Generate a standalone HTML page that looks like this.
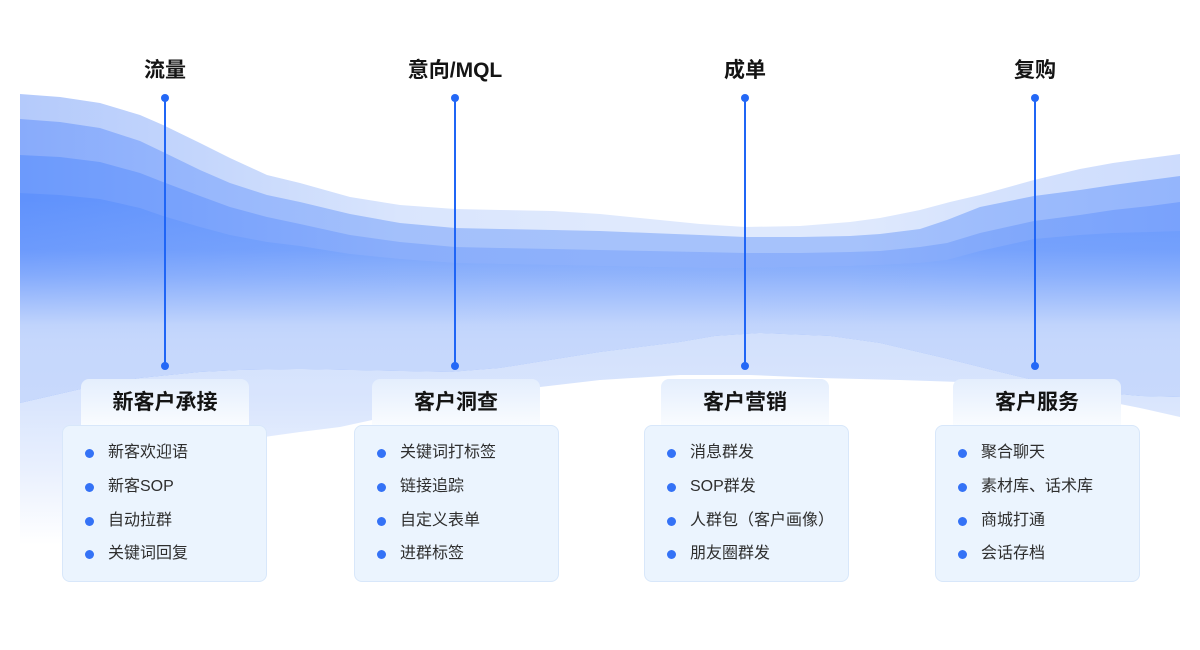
<!DOCTYPE html>
<html><head><meta charset="utf-8">
<style>
*{margin:0;padding:0;box-sizing:border-box}
body{width:1200px;height:650px;position:relative;background:#fff;overflow:hidden;font-family:"Liberation Sans","Noto Sans CJK SC",sans-serif}
svg{position:absolute;left:0;top:0}
.lbl{position:absolute;width:200px;height:30px;line-height:30px;text-align:center;font-size:21px;font-weight:bold;color:#141414}
.tab{position:absolute;top:379px;width:168px;height:50px;border-radius:8px 8px 0 0;background:linear-gradient(#e4eefd,#fbfdff);}
.tab span{position:absolute;left:0;right:0;top:9px;height:30px;line-height:30px;text-align:center;font-size:21px;font-weight:bold;color:#141414}
.card{position:absolute;top:425px;width:205px;height:157px;border:1.5px solid #d8e7fa;border-radius:8px;background:#ebf4fe}
.it{position:absolute;left:0;height:22px;line-height:22px;font-size:16px;color:#2e2e2e;white-space:nowrap}
.it i{position:absolute;left:22px;top:6.5px;width:9px;height:9px;border-radius:50%;background:#3472f6}
.it b{font-weight:normal;position:absolute;left:45px;top:0}
</style></head><body>
<svg width="1200" height="650" viewBox="0 0 1200 650">
<defs>
<linearGradient id="g1" gradientUnits="userSpaceOnUse" x1="20" y1="0" x2="1180" y2="0">
<stop offset="0" stop-color="#b4cafb"/><stop offset="0.155" stop-color="#c4d6fc"/><stop offset="0.327" stop-color="#d9e5fd"/><stop offset="0.5" stop-color="#dfe9fd"/><stop offset="0.716" stop-color="#dfe9fd"/><stop offset="0.845" stop-color="#d5e2fd"/><stop offset="1" stop-color="#cddcfd"/>
</linearGradient>
<linearGradient id="g2" gradientUnits="userSpaceOnUse" x1="20" y1="0" x2="1180" y2="0">
<stop offset="0" stop-color="#88abfb"/><stop offset="0.155" stop-color="#97b7fc"/><stop offset="0.327" stop-color="#a3c0fb"/><stop offset="0.5" stop-color="#a6c2fb"/><stop offset="0.716" stop-color="#a6c2fb"/><stop offset="0.845" stop-color="#9dbcfc"/><stop offset="1" stop-color="#94b5fc"/>
</linearGradient>
<linearGradient id="g3" gradientUnits="userSpaceOnUse" x1="20" y1="0" x2="1180" y2="0">
<stop offset="0" stop-color="#6c9afc"/><stop offset="0.155" stop-color="#7aa3fc"/><stop offset="0.327" stop-color="#8aaefb"/><stop offset="0.5" stop-color="#8eb1fb"/><stop offset="0.716" stop-color="#8db0fb"/><stop offset="0.845" stop-color="#82a9fb"/><stop offset="1" stop-color="#79a2fc"/>
</linearGradient>
<linearGradient id="g4" gradientUnits="userSpaceOnUse" x1="20" y1="0" x2="1180" y2="0">
<stop offset="0" stop-color="#6092fc"/><stop offset="0.155" stop-color="#6898fc"/><stop offset="0.327" stop-color="#709efb"/><stop offset="0.5" stop-color="#74a0fb"/><stop offset="0.716" stop-color="#729ffb"/><stop offset="0.845" stop-color="#6c9bfc"/><stop offset="1" stop-color="#6999fc"/>
</linearGradient>
<linearGradient id="g4v" gradientUnits="userSpaceOnUse" x1="0" y1="200" x2="0" y2="400">
<stop offset="0" stop-color="#c5d7fc" stop-opacity="0"/>
<stop offset="0.25" stop-color="#c5d7fc" stop-opacity="0.12"/>
<stop offset="0.375" stop-color="#c5d7fc" stop-opacity="0.35"/>
<stop offset="0.5" stop-color="#c5d7fc" stop-opacity="0.65"/>
<stop offset="0.625" stop-color="#c5d7fc" stop-opacity="0.95"/>
<stop offset="0.7" stop-color="#c5d7fc" stop-opacity="1"/>
<stop offset="1" stop-color="#c8d9fc" stop-opacity="1"/>
</linearGradient>
<linearGradient id="g5" gradientUnits="userSpaceOnUse" x1="0" y1="330" x2="0" y2="545">
<stop offset="0" stop-color="#d2e0fc"/>
<stop offset="0.33" stop-color="#d9e5fd"/>
<stop offset="0.65" stop-color="#e9f0fe"/>
<stop offset="1" stop-color="#ffffff"/>
</linearGradient>
</defs>
<path fill="url(#g1)" d="M20,94 L60,97 L100,103 L140,115 L163,125 L200,143 L230,158 L267,175 L300,183 L350,197 L400,205 L455,209 L500,210 L553,211 L600,214 L650,219 L700,224 L745,227 L800,226 L850,222 L880,218 L920,210 L950,202 L980,195 L1034,180 L1080,169 L1113,163 L1150,158 L1180,154 L1180,397 L1140,396 L1097,392 L1050,384 L1000,372 L944,358 L880,343 L830,336 L760,333 L715,336 L680,342 L600,352 L550,360 L500,368 L450,372 L350,370 L300,369 L240,370 L200,372 L140,378 L81,389 L20,403 Z"/>
<path fill="url(#g2)" d="M20,119 L60,122 L100,128 L140,141 L163,152 L200,170 L230,183 L267,195 L300,202 L350,214 L400,223 L455,228 L500,229 L553,230 L600,231 L650,233 L700,235 L745,237 L800,237 L850,236 L880,234 L920,229 L947,220 L980,207 L1034,196 L1080,190 L1113,185 L1150,180 L1180,176 L1180,397 L1140,396 L1097,392 L1050,384 L1000,372 L944,358 L880,343 L830,336 L760,333 L715,336 L680,342 L600,352 L550,360 L500,368 L450,372 L350,370 L300,369 L240,370 L200,372 L140,378 L81,389 L20,403 Z"/>
<path fill="url(#g3)" d="M20,155 L60,157 L100,162 L140,173 L163,182 L200,196 L230,207 L267,217 L300,224 L350,235 L400,242 L455,247 L500,248 L553,249 L600,250 L650,251 L700,252 L745,253 L800,253 L850,252 L880,251 L920,247 L947,243 L980,233 L1034,221 L1080,215 L1113,210 L1150,206 L1180,202 L1180,397 L1140,396 L1097,392 L1050,384 L1000,372 L944,358 L880,343 L830,336 L760,333 L715,336 L680,342 L600,352 L550,360 L500,368 L450,372 L350,370 L300,369 L240,370 L200,372 L140,378 L81,389 L20,403 Z"/>
<path id="l4" fill="url(#g4)" d="M20,193 L60,195 L100,199 L140,208 L163,216 L200,227 L230,235 L267,242 L300,246 L350,254 L400,259 L455,263 L500,264 L553,265 L600,266 L650,267 L700,268 L745,268 L800,267 L850,266 L880,265 L920,263 L947,260 L980,251 L1034,239 L1080,235 L1113,233 L1150,232 L1180,231 L1180,397 L1140,396 L1097,392 L1050,384 L1000,372 L944,358 L880,343 L830,336 L760,333 L715,336 L680,342 L600,352 L550,360 L500,368 L450,372 L350,370 L300,369 L240,370 L200,372 L140,378 L81,389 L20,403 Z"/>
<path fill="url(#g4v)" d="M20,193 L60,195 L100,199 L140,208 L163,216 L200,227 L230,235 L267,242 L300,246 L350,254 L400,259 L455,263 L500,264 L553,265 L600,266 L650,267 L700,268 L745,268 L800,267 L850,266 L880,265 L920,263 L947,260 L980,251 L1034,239 L1080,235 L1113,233 L1150,232 L1180,231 L1180,397 L1140,396 L1097,392 L1050,384 L1000,372 L944,358 L880,343 L830,336 L760,333 L715,336 L680,342 L600,352 L550,360 L500,368 L450,372 L350,370 L300,369 L240,370 L200,372 L140,378 L81,389 L20,403 Z"/>
<path fill="url(#g5)" d="M20,403 L81,389 L140,378 L200,372 L240,370 L300,369 L350,370 L450,372 L500,368 L550,360 L600,352 L680,342 L715,336 L760,333 L830,336 L880,343 L944,358 L1000,372 L1050,384 L1097,392 L1140,396 L1180,397 L1180,417 L1140,408 L1100,400 L1030,389 L960,382 L900,380 L820,378 L750,375 L680,375 L600,380 L540,387 L450,402 L400,414 L340,427 L300,432 L264,437 L230,448 L180,470 L100,520 L60,560 L20,600 Z"/>
<g stroke="#1f65f5" stroke-width="2">
<line x1="165" y1="98" x2="165" y2="366"/>
<line x1="455" y1="98" x2="455" y2="366"/>
<line x1="745" y1="98" x2="745" y2="366"/>
<line x1="1035" y1="98" x2="1035" y2="366"/>
</g>
<g fill="#2468f6">
<circle cx="165" cy="98" r="4"/><circle cx="165" cy="366" r="4"/>
<circle cx="455" cy="98" r="4"/><circle cx="455" cy="366" r="4"/>
<circle cx="745" cy="98" r="4"/><circle cx="745" cy="366" r="4"/>
<circle cx="1035" cy="98" r="4"/><circle cx="1035" cy="366" r="4"/>
</g>
</svg>

<div class="lbl" style="left:65px;top:56px">流量</div>
<div class="lbl" style="left:355px;top:56px">意向/MQL</div>
<div class="lbl" style="left:645px;top:56px">成单</div>
<div class="lbl" style="left:935px;top:56px">复购</div>

<div class="tab" style="left:81px"><span>新客户承接</span></div>
<div class="tab" style="left:372px"><span>客户洞查</span></div>
<div class="tab" style="left:661px"><span>客户营销</span></div>
<div class="tab" style="left:953px"><span>客户服务</span></div>

<div class="card" style="left:62px">
<div class="it" style="top:16px"><i></i><b>新客欢迎语</b></div>
<div class="it" style="top:50px"><i></i><b>新客SOP</b></div>
<div class="it" style="top:84px"><i></i><b>自动拉群</b></div>
<div class="it" style="top:117px"><i></i><b>关键词回复</b></div>
</div>
<div class="card" style="left:354px">
<div class="it" style="top:16px"><i></i><b>关键词打标签</b></div>
<div class="it" style="top:50px"><i></i><b>链接追踪</b></div>
<div class="it" style="top:84px"><i></i><b>自定义表单</b></div>
<div class="it" style="top:117px"><i></i><b>进群标签</b></div>
</div>
<div class="card" style="left:644px">
<div class="it" style="top:16px"><i></i><b>消息群发</b></div>
<div class="it" style="top:50px"><i></i><b>SOP群发</b></div>
<div class="it" style="top:84px"><i></i><b>人群包（客户画像）</b></div>
<div class="it" style="top:117px"><i></i><b>朋友圈群发</b></div>
</div>
<div class="card" style="left:935px">
<div class="it" style="top:16px"><i></i><b>聚合聊天</b></div>
<div class="it" style="top:50px"><i></i><b>素材库、话术库</b></div>
<div class="it" style="top:84px"><i></i><b>商城打通</b></div>
<div class="it" style="top:117px"><i></i><b>会话存档</b></div>
</div>
</body></html>
